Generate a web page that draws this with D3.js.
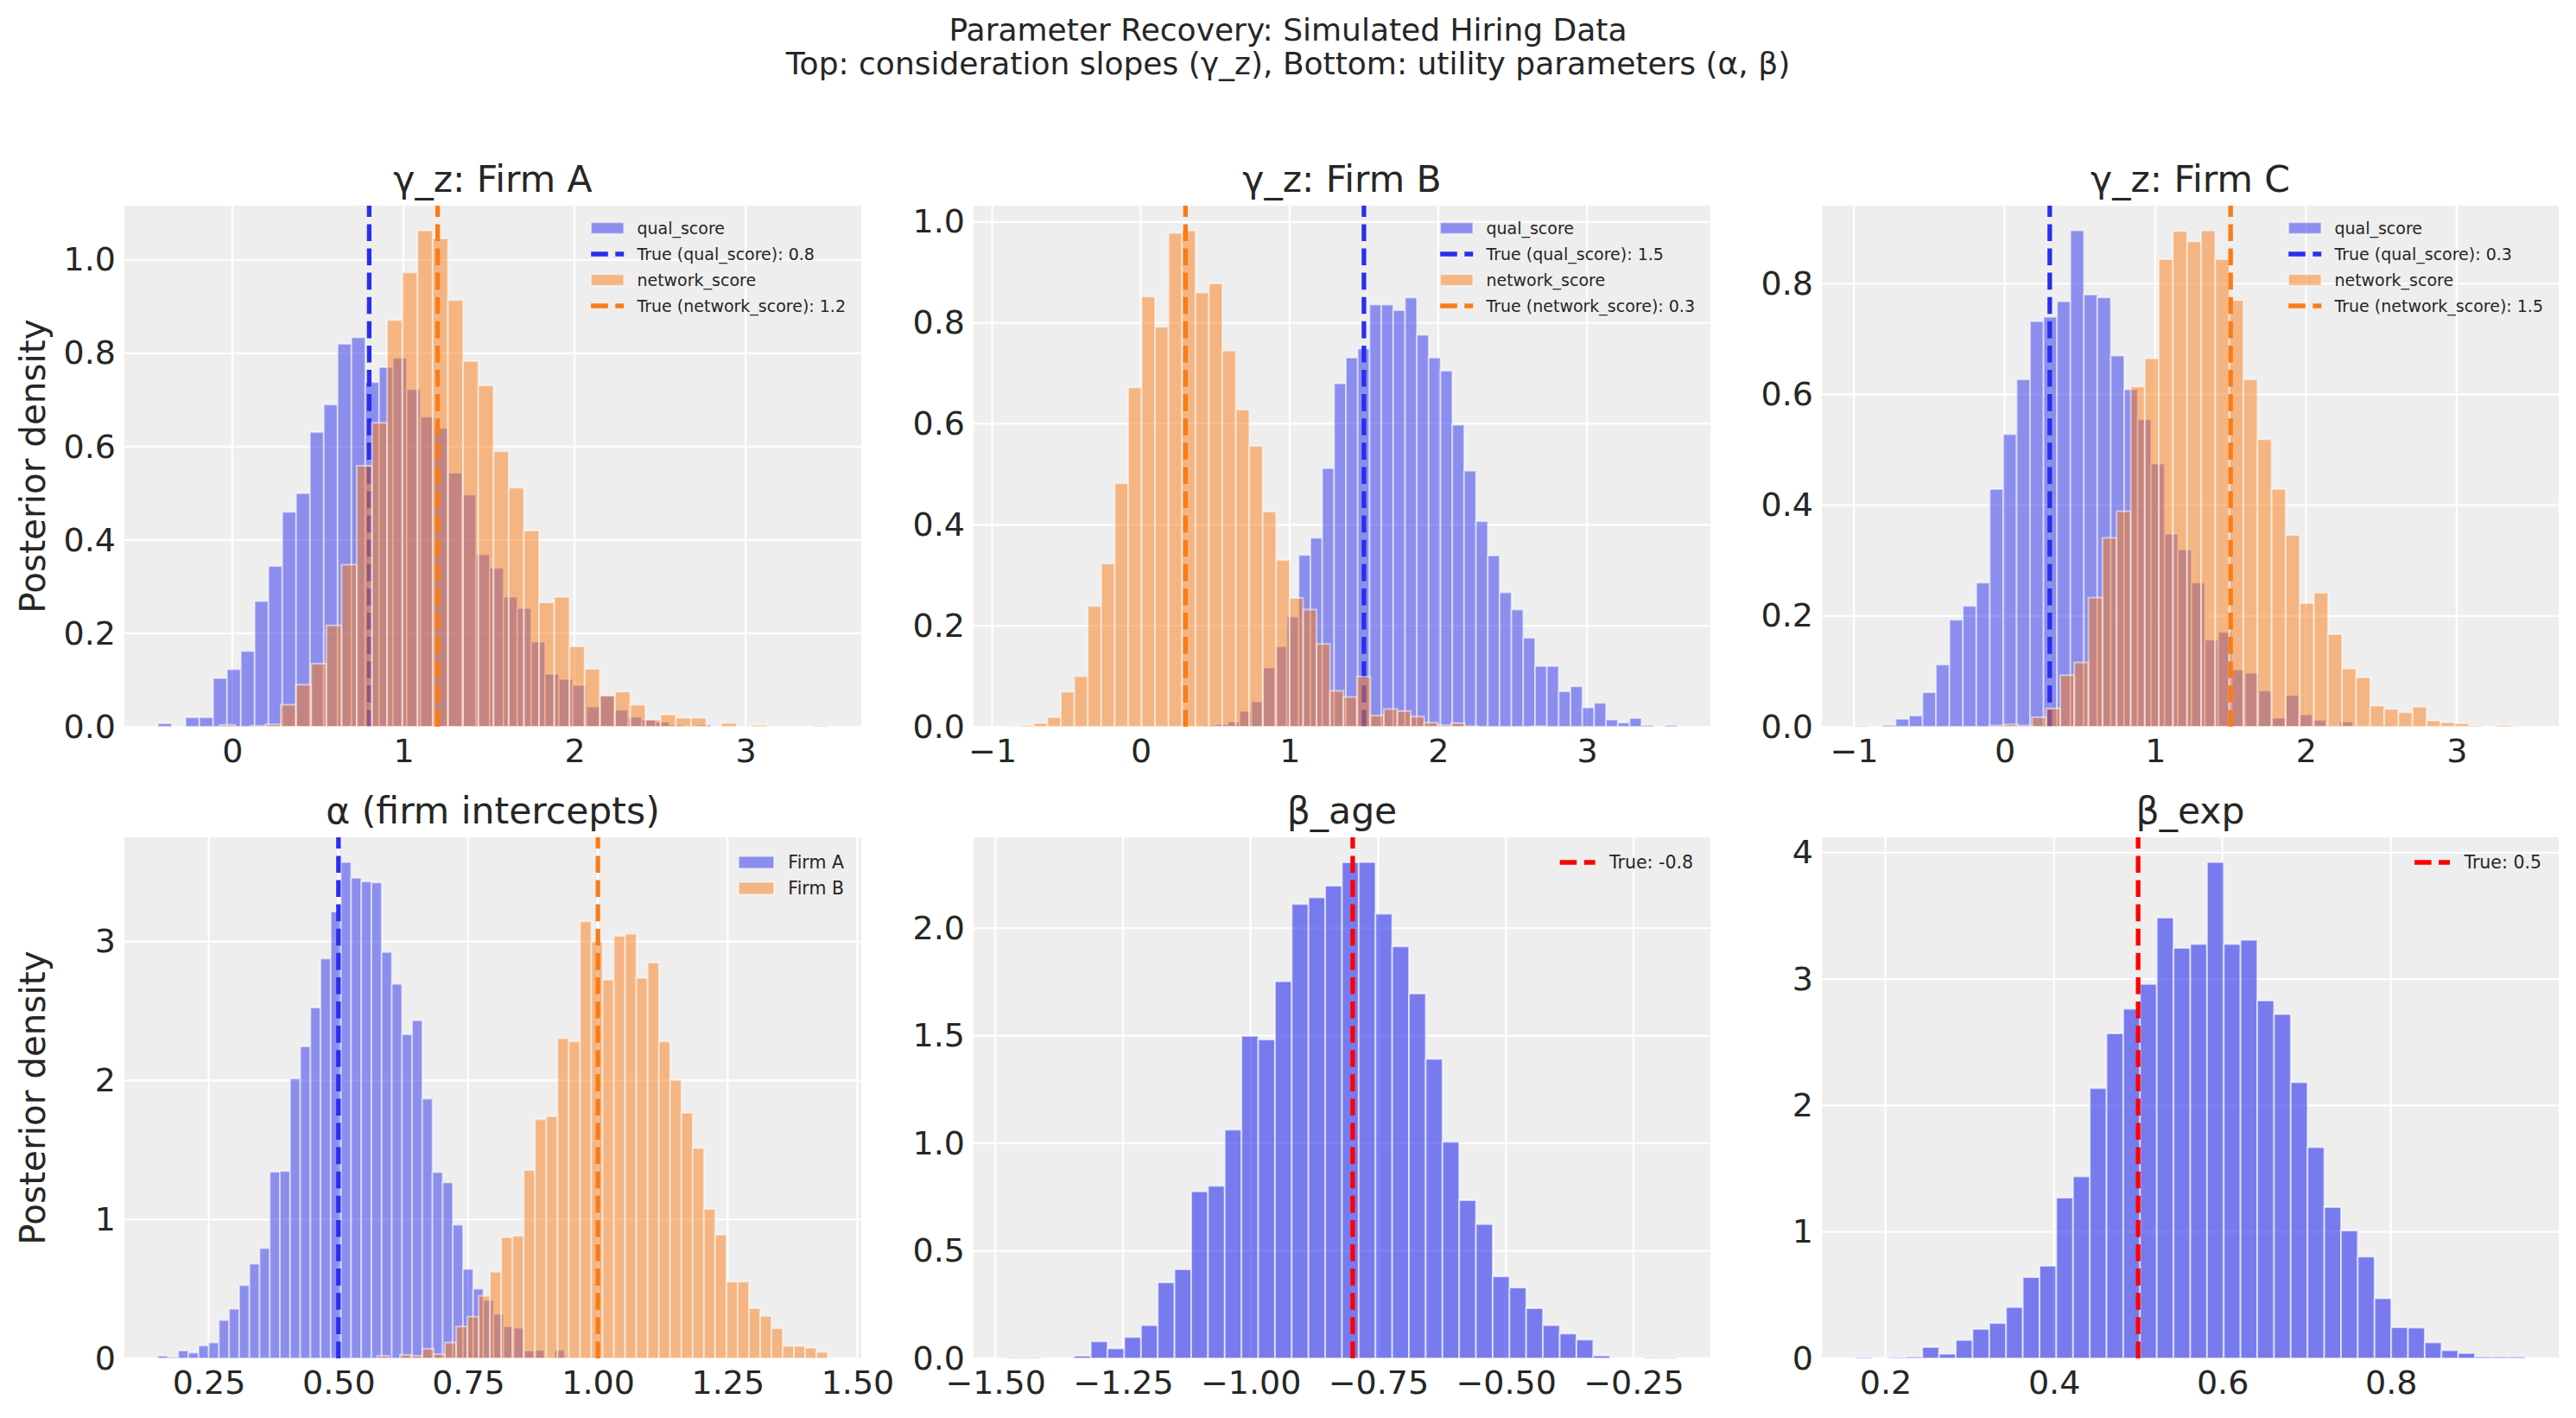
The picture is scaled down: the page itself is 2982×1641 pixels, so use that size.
<!DOCTYPE html>
<html>
<head>
<meta charset="utf-8">
<title>Parameter Recovery: Simulated Hiring Data</title>
<script src="https://cdn.jsdelivr.net/npm/d3@7"></script>
<style>
  body { margin: 0; background: #ffffff; }
  text { font-family: "DejaVu Sans", sans-serif; fill: #262626; }
</style>
</head>
<body>
<svg id="chart"></svg>
<script>
// ---- DATA (posterior density per histogram bin) ----
// bins: [first bin edge, bin width]

// gamma_z, Firm A
var gzA_qualBins = [-0.435, 0.0808];
var gzA_qual = [0.007,0,0.02,0.02,0.104,0.123,0.162,0.269,0.344,0.46,
  0.50,0.631,0.69,0.82,0.834,0.738,0.77,0.79,0.723,0.664,
  0.64,0.544,0.497,0.369,0.34,0.278,0.254,0.182,0.113,0.102,
  0.089,0.043,0.066,0.036,0.021,0.015,0.01,0.004,0,0.004];
var gzA_netBins = [-0.072, 0.0888];
var gzA_net = [0.004,0,0.002,0.005,0.047,0.09,0.135,0.217,0.347,0.559,
  0.651,0.871,0.973,1.063,1.046,0.914,0.783,0.731,0.59,0.512,
  0.42,0.266,0.278,0.172,0.124,0.067,0.075,0.047,0.015,0.026,
  0.019,0.019,0,0.008,0,0.004,0,0,0,0.002];
var gzA_true = [0.8, 1.2];

// gamma_z, Firm B
var gzB_qualBins = [0.425, 0.0795];
var gzB_qual = [0.003,0.005,0.01,0.031,0.05,0.117,0.159,0.218,0.34,0.374,
  0.512,0.68,0.731,0.749,0.836,0.836,0.825,0.85,0.776,0.731,
  0.705,0.598,0.507,0.407,0.339,0.266,0.232,0.176,0.12,0.12,
  0.07,0.08,0.038,0.047,0.014,0.008,0.017,0.003,0,0.003];
var gzB_netBins = [-0.90, 0.0905];
var gzB_net = [0.001,0.003,0.007,0.019,0.069,0.10,0.239,0.323,0.482,0.672,
  0.852,0.792,0.978,0.983,0.86,0.878,0.745,0.628,0.556,0.426,
  0.33,0.255,0.232,0.164,0.071,0.059,0.099,0.022,0.035,0.031,
  0.02,0.008,0.003,0.007,0.001,0,0,0,0,0.001];
var gzB_true = [1.5, 0.3];

// gamma_z, Firm C
var gzC_qualBins = [-0.99, 0.0892];
var gzC_qual = [0.001,0,0.003,0.014,0.02,0.062,0.112,0.193,0.218,0.26,
  0.429,0.528,0.627,0.732,0.74,0.768,0.896,0.78,0.775,0.67,
  0.609,0.555,0.475,0.348,0.32,0.26,0.157,0.171,0.103,0.097,
  0.065,0.016,0.057,0.022,0.012,0,0.009,0,0,0.002];
var gzC_netBins = [-0.285, 0.0935];
var gzC_net = [0,0,0.002,0.004,0.002,0.017,0.033,0.093,0.116,0.233,
  0.341,0.389,0.614,0.665,0.844,0.895,0.876,0.896,0.844,0.77,
  0.627,0.519,0.429,0.346,0.223,0.242,0.167,0.105,0.089,0.038,
  0.032,0.026,0.036,0.011,0.008,0.006,0.002,0,0.003,0.001];
var gzC_true = [0.3, 1.5];

// alpha (firm intercepts)
var alphaA_bins = [0.152, 0.0196];
var alphaA = [0.018,0.008,0.056,0.041,0.092,0.114,0.275,0.356,0.526,0.681,
  0.793,1.342,1.348,2.014,2.245,2.525,2.878,3.216,3.572,3.458,
  3.432,3.425,2.924,2.695,2.332,2.433,1.869,1.34,1.266,0.961,
  0.643,0.501,0.42,0.32,0.23,0.22,0.055,0.06,0,0.06];
var alphaB_bins = [0.575, 0.0217];
var alphaB = [0.018,0,0.025,0.018,0.069,0.03,0.114,0.229,0.30,0.45,
  0.623,0.872,0.882,1.355,1.721,1.742,2.304,2.281,3.145,3.0,
  2.726,3.04,3.056,2.738,2.848,2.281,2.004,1.767,1.513,1.076,
  0.89,0.552,0.552,0.361,0.305,0.216,0.089,0.089,0.076,0.046];
var alpha_true = [0.5, 1.0];

// beta_age
var betaAge_bins = [-1.477, 0.0328];
var betaAge = [0.003,0.003,0,0,0.012,0.079,0.046,0.099,0.154,0.353,
  0.414,0.776,0.802,1.063,1.499,1.482,1.753,2.112,2.143,2.197,
  2.306,2.307,2.067,1.915,1.696,1.392,1.007,0.735,0.624,0.381,
  0.329,0.233,0.154,0.115,0.087,0.013,0,0,0.003,0.003];
var betaAge_true = -0.8;

// beta_exp
var betaExp_bins = [0.1643, 0.01988];
var betaExp = [0.008,0,0.008,0.014,0.089,0.036,0.145,0.232,0.279,0.405,
  0.642,0.732,1.271,1.439,2.137,2.57,2.765,2.961,3.486,3.246,
  3.277,3.925,3.277,3.31,2.83,2.723,2.184,1.67,1.196,1.011,
  0.804,0.475,0.246,0.243,0.126,0.064,0.042,0.014,0.014,0.014];
var betaExp_true = 0.5;

// tick values
var xTicksGzA = [0, 1, 2, 3];
var xTicksGzBC = [-1, 0, 1, 2, 3];
var xTicksAlpha = [0.25, 0.5, 0.75, 1.0, 1.25, 1.5];
var xTicksAge = [-1.5, -1.25, -1.0, -0.75, -0.5, -0.25];
var xTicksExp = [0.2, 0.4, 0.6, 0.8];
var yTicksGzAB = [0, 0.2, 0.4, 0.6, 0.8, 1.0];
var yTicksGzC = [0, 0.2, 0.4, 0.6, 0.8];
var yTicksAlpha = [0, 1, 2, 3];
var yTicksAge = [0, 0.5, 1.0, 1.5, 2.0];
var yTicksExp = [0, 1, 2, 3, 4];

var suptitle = ["Parameter Recovery: Simulated Hiring Data",
  "Top: consideration slopes (γ_z), Bottom: utility parameters (α, β)"];

// ---- LAYOUT ----
var svgWidth = 2982, svgHeight = 1641;
var colLeft = [144, 1127, 2109];
var rowTop = [238, 969];
var plotW = 853, plotH = 603;

var BLUE = "#2a2eec", ORANGE = "#fa7c17", RED = "#ff0000";

var svg = d3.select("#chart")
  .attr("width", svgWidth)
  .attr("height", svgHeight);

svg.append("text")
  .attr("x", svgWidth / 2).attr("y", 47)
  .attr("text-anchor", "middle")
  .style("font-size", "36px")
  .text(suptitle[0]);
svg.append("text")
  .attr("x", svgWidth / 2).attr("y", 86)
  .attr("text-anchor", "middle")
  .style("font-size", "36px")
  .text(suptitle[1]);

function hist(values, bins, color, alpha, label) {
  return {type: "hist", values: values, start: bins[0], width: bins[1], color: color, alpha: alpha, label: label};
}
function vline(x, color, label) {
  return {type: "line", x: x, color: color, label: label};
}

var panels = [
  {col: 0, row: 0, title: "γ_z: Firm A",
    layers: [hist(gzA_qual, gzA_qualBins, BLUE, 0.5, "qual_score"),
      vline(gzA_true[0], BLUE, "True (qual_score): " + gzA_true[0]),
      hist(gzA_net, gzA_netBins, ORANGE, 0.5, "network_score"),
      vline(gzA_true[1], ORANGE, "True (network_score): " + gzA_true[1])],
    xTicks: xTicksGzA, yTicks: yTicksGzAB, xFmt: d3.format("d"), yFmt: d3.format(".1f")},
  {col: 1, row: 0, title: "γ_z: Firm B",
    layers: [hist(gzB_qual, gzB_qualBins, BLUE, 0.5, "qual_score"),
      vline(gzB_true[0], BLUE, "True (qual_score): " + gzB_true[0]),
      hist(gzB_net, gzB_netBins, ORANGE, 0.5, "network_score"),
      vline(gzB_true[1], ORANGE, "True (network_score): " + gzB_true[1])],
    xTicks: xTicksGzBC, yTicks: yTicksGzAB, xFmt: d3.format("d"), yFmt: d3.format(".1f")},
  {col: 2, row: 0, title: "γ_z: Firm C",
    layers: [hist(gzC_qual, gzC_qualBins, BLUE, 0.5, "qual_score"),
      vline(gzC_true[0], BLUE, "True (qual_score): " + gzC_true[0]),
      hist(gzC_net, gzC_netBins, ORANGE, 0.5, "network_score"),
      vline(gzC_true[1], ORANGE, "True (network_score): " + gzC_true[1])],
    xTicks: xTicksGzBC, yTicks: yTicksGzC, xFmt: d3.format("d"), yFmt: d3.format(".1f")},
  {col: 0, row: 1, title: "α (firm intercepts)",
    layers: [hist(alphaA, alphaA_bins, BLUE, 0.5, "Firm A"),
      hist(alphaB, alphaB_bins, ORANGE, 0.5, "Firm B"),
      vline(alpha_true[0], BLUE, null),
      vline(alpha_true[1], ORANGE, null)],
    xTicks: xTicksAlpha, yTicks: yTicksAlpha, xFmt: d3.format(".2f"), yFmt: d3.format("d")},
  {col: 1, row: 1, title: "β_age",
    layers: [hist(betaAge, betaAge_bins, BLUE, 0.6, null),
      vline(betaAge_true, RED, "True: " + betaAge_true)],
    xTicks: xTicksAge, yTicks: yTicksAge, xFmt: d3.format(".2f"), yFmt: d3.format(".1f")},
  {col: 2, row: 1, title: "β_exp",
    layers: [hist(betaExp, betaExp_bins, BLUE, 0.6, null),
      vline(betaExp_true, RED, "True: " + betaExp_true)],
    xTicks: xTicksExp, yTicks: yTicksExp, xFmt: d3.format(".1f"), yFmt: d3.format("d")}
];

var DASH = "19.6,8.5";
var LINE_W = 5.3;

panels.forEach(function(p, pi) {
  var g = svg.append("g")
    .attr("transform", `translate(${colLeft[p.col]}, ${rowTop[p.row]})`);

  var hists = p.layers.filter(l => l.type === "hist");
  var lo = d3.min(hists, h => h.start);
  var hi = d3.max(hists, h => h.start + h.width * h.values.length);
  var pad = (hi - lo) * 0.05;

  var x = d3.scaleLinear().domain([lo - pad, hi + pad]).range([0, plotW]);
  var yMax = d3.max(hists, h => d3.max(h.values)) * 1.05;
  var y = d3.scaleLinear().domain([0, yMax]).range([plotH, 0]);

  // background + grid
  g.append("rect")
    .attr("width", plotW).attr("height", plotH)
    .attr("fill", "#eeeeee");

  g.selectAll(".xgrid")
    .data(p.xTicks).enter()
    .append("line")
    .attr("x1", d => x(d)).attr("x2", d => x(d))
    .attr("y1", 0).attr("y2", plotH)
    .attr("stroke", "#ffffff").attr("stroke-width", 2.2);

  g.selectAll(".ygrid")
    .data(p.yTicks).enter()
    .append("line")
    .attr("x1", 0).attr("x2", plotW)
    .attr("y1", d => y(d)).attr("y2", d => y(d))
    .attr("stroke", "#ffffff").attr("stroke-width", 2.2);

  svg.append("clipPath").attr("id", "clip" + pi)
    .append("rect").attr("width", plotW).attr("height", plotH);

  var plot = g.append("g").attr("clip-path", `url(#clip${pi})`);

  p.layers.forEach(function(l) {
    if (l.type === "hist") {
      plot.append("g").selectAll("rect")
        .data(l.values.map((v, i) => ({x0: l.start + i * l.width, x1: l.start + (i + 1) * l.width, v: v})).filter(d => d.v > 0))
        .enter()
        .append("rect")
        .attr("x", d => x(d.x0))
        .attr("width", d => x(d.x1) - x(d.x0))
        .attr("y", d => y(d.v))
        .attr("height", d => y(0) - y(d.v))
        .attr("fill", l.color)
        .attr("fill-opacity", l.alpha)
        .attr("stroke", "#ffffff")
        .attr("stroke-opacity", l.alpha)
        .attr("stroke-width", 2);
    } else {
      plot.append("line")
        .attr("x1", x(l.x)).attr("x2", x(l.x))
        .attr("y1", y(0)).attr("y2", y(yMax))
        .attr("stroke", l.color)
        .attr("stroke-width", LINE_W)
        .attr("stroke-dasharray", DASH);
    }
  });

  // axes
  var xAxis = g.append("g")
    .attr("transform", `translate(0, ${plotH})`)
    .call(d3.axisBottom(x).tickValues(p.xTicks).tickFormat(p.xFmt).tickSize(0).tickPadding(14));
  var yAxis = g.append("g")
    .call(d3.axisLeft(y).tickValues(p.yTicks).tickFormat(p.yFmt).tickSize(0).tickPadding(10));
  [xAxis, yAxis].forEach(function(a) {
    a.attr("font-family", null).attr("font-size", null);
    a.select(".domain").remove();
    a.selectAll("text").style("font-size", "38px");
  });

  // title
  g.append("text")
    .attr("x", plotW / 2).attr("y", -16)
    .attr("text-anchor", "middle")
    .style("font-size", "42.5px")
    .text(p.title);

  if (p.col === 0) {
    g.append("text")
      .attr("transform", `translate(${38 - colLeft[0]}, ${plotH / 2}) rotate(-90)`)
      .attr("text-anchor", "middle")
      .attr("dy", "0.35em")
      .style("font-size", "40.5px")
      .text("Posterior density");
  }

  // legend
  var items = p.layers.filter(l => l.label);
  var fs = p.row === 0 ? 19 : 20.5;
  var firstRow = p.row === 0 ? 26 : 29;
  var rowGap = 30;
  var legend = g.append("g");
  items.forEach(function(it, i) {
    var cy = firstRow + i * rowGap;
    if (it.type === "hist") {
      legend.append("rect")
        .attr("x", 0).attr("y", cy - 0.35 * fs)
        .attr("width", 2 * fs).attr("height", 0.7 * fs)
        .attr("fill", it.color).attr("fill-opacity", it.alpha)
        .attr("stroke", "#ffffff").attr("stroke-opacity", it.alpha)
        .attr("stroke-width", 2);
    } else {
      legend.append("line")
        .attr("x1", 0).attr("x2", 2 * fs)
        .attr("y1", cy).attr("y2", cy)
        .attr("stroke", it.color)
        .attr("stroke-width", LINE_W)
        .attr("stroke-dasharray", DASH);
    }
    legend.append("text")
      .attr("class", "ltext")
      .attr("x", 2.8 * fs).attr("y", cy)
      .attr("dy", "0.36em")
      .style("font-size", fs + "px")
      .text(it.label);
  });
  var maxW = d3.max(legend.selectAll(".ltext").nodes(), n => n.getComputedTextLength()) || 0;
  var rightPad = p.row === 0 ? 18 : 20;
  legend.attr("transform", `translate(${plotW - rightPad - maxW - 2.8 * fs}, 0)`);
});
</script>
</body>
</html>
